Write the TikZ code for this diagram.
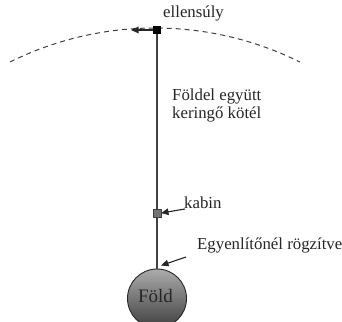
\documentclass[tikz,border=0pt]{standalone}
\usepackage{fontspec}
\setmainfont{Liberation Serif}
\usetikzlibrary{arrows.meta}
\begin{document}
\begin{tikzpicture}[x=1pt,y=-1pt,
  lbl/.style={font=\fontsize{16.8}{17.5}\selectfont, inner sep=0pt, text=black!85, anchor=base west},
  pointer/.style={-{Triangle[length=7.5pt,width=6.5pt]}, line width=1.1pt, black!85},
  cable/.style={line width=1.3pt, black!75},
  orbit/.style={dash pattern=on 5pt off 4pt, line width=1pt, black!75}]
\useasboundingbox (0,0) rectangle (342,321);
% orbit of the counterweight
\draw[orbit] (10,62) arc[start angle=-116.4, end angle=-63.6, radius=326];
% Earth
\shade[top color=black!33, bottom color=black!75] (157,298.5) circle[radius=29.5];
\node[draw=black!85, line width=0.9pt, circle, minimum size=59pt, inner sep=0pt] (earth) at (157,298.5) {};
\node[font=\fontsize{19}{20}\selectfont, text=black!85, inner sep=0pt, anchor=base] (earthlbl) at (155.5,302) {Föld};
% counterweight and cabin
\node[fill=black, minimum size=8.5pt, inner sep=0pt] (cw) at (157,30) {};
\node[fill=black!55, draw=black!75, line width=0.5pt, minimum size=7.5pt, inner sep=0pt] (cab) at (157,213) {};
% tether
\draw[cable] (cw.south) -- (cab.north);
\draw[cable] (cab.south) -- (earth.north);
% direction of motion
\coordinate (mv) at (131,30);
\draw[pointer] (cw.west) -- (mv);
% labels
\node[lbl] (cwlbl) at (163,18) {ellensúly};
\node[lbl, align=left] (teth) at (172,118) {Földel együtt\\keringő kötél};
\node[lbl] (cablbl) at (184,208) {kabin};
\node[lbl] (fix) at (197,249) {Egyenlítőnél rögzítve};
\coordinate (kt) at (185,209);
\coordinate (fx) at (186,257);
\coordinate (fxe) at (161,265.5);
\draw[pointer] (kt) -- (cab.east);
\draw[pointer] (fx) -- (fxe);
\end{tikzpicture}
\end{document}
